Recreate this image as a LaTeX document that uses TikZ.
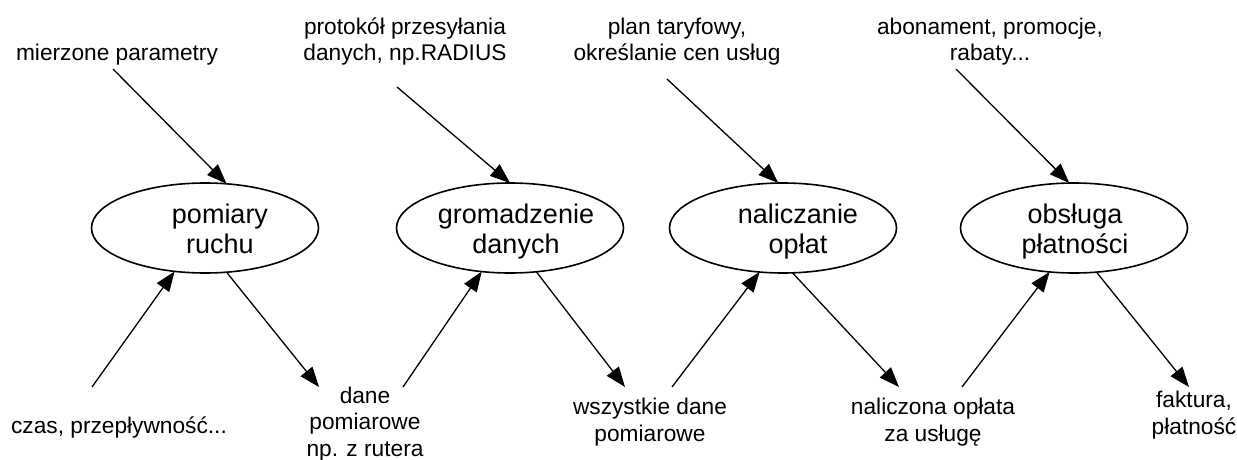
\documentclass[tikz,border=0pt]{standalone}
\usepackage{fontspec}
\setmainfont{Liberation Sans}
\usetikzlibrary{shapes.geometric,arrows.meta}
\tikzset{
  proc/.style={ellipse, draw, line width=1.6pt, minimum width=227pt, minimum height=90pt, inner sep=0pt, outer sep=0pt},
  ptext/.style={font=\fontsize{27}{30}\selectfont, align=center, anchor=base, inner sep=0pt},
  lbl/.style={font=\fontsize{22.7}{26.5}\selectfont, align=center, anchor=base, inner sep=0pt},
  flow/.style={-{Triangle[length=20pt,width=15pt]}, line width=1.3pt}
}
\begin{document}
\begin{tikzpicture}[x=1pt,y=-1pt]
\fill[white] (0,0) rectangle (1237,460);
\useasboundingbox (0,0) rectangle (1237,460);

% process ellipses
\node[proc] (e1) at (205,228) {};
\node[proc] (e2) at (510,228) {};
\node[proc] (e3) at (783,228) {};
\node[proc] (e4) at (1074,228) {};

% texts inside ellipses (anchor base = last line)
\node[ptext] (t1) at (220,253) {pomiary\\ruchu};
\node[ptext] (t2) at (516,253) {gromadzenie\\danych};
\node[ptext] (t3) at (798,253) {naliczanie\\opłat};
\node[ptext] (t4) at (1075,253) {obsługa\\płatności};

% top labels
\node[lbl] (l1) at (117,61) {mierzone parametry};
\node[lbl] (l2) at (405,61) {protokół przesyłania\\danych, np.RADIUS};
\node[lbl] (l3) at (677,61) {plan taryfowy,\\określanie cen usług};
\node[lbl] (l4) at (990,61) {abonament, promocje,\\rabaty...};

% bottom labels
\node[lbl] (b1) at (119,433) {czas, przepływność...};
\node[lbl] (b2) at (365,456) {dane\\pomiarowe\\np. z rutera};
\node[lbl] (b3) at (650,441) {wszystkie dane\\pomiarowe};
\node[lbl] (b4) at (933,441) {naliczona opłata\\za usługę};
\node[lbl] (b5) at (1194,434) {faktura,\\płatność};

% free ends of connectors
\coordinate (a1) at (113,69);
\coordinate (a2) at (397,87);
\coordinate (a3) at (667,79);
\coordinate (a4) at (956,69);
\coordinate (u1) at (92,387);
\coordinate (d1) at (319,387);
\coordinate (u2) at (403,387);
\coordinate (d2) at (625,387);
\coordinate (u3) at (672,387);
\coordinate (d3) at (899,387);
\coordinate (u4) at (962,387);
\coordinate (d4) at (1189,387);

% inputs from above
\draw[flow] (a1) -- (e1.64.6);
\draw[flow] (a2) -- (e2.90);
\draw[flow] (a3) -- (e3.96.3);
\draw[flow] (a4) -- (e4.96.3);

% inputs from below
\draw[flow] (u1) -- (e1.235.3);
\draw[flow] (u2) -- (e2.237.3);
\draw[flow] (u3) -- (e3.242.4);
\draw[flow] (u4) -- (e4.241.4);

% outputs
\draw[flow] (e1.296.5) -- (d1);
\draw[flow] (e2.301.7) -- (d2);
\draw[flow] (e3.282.6) -- (d3);
\draw[flow] (e4.297.6) -- (d4);
\end{tikzpicture}
\end{document}
